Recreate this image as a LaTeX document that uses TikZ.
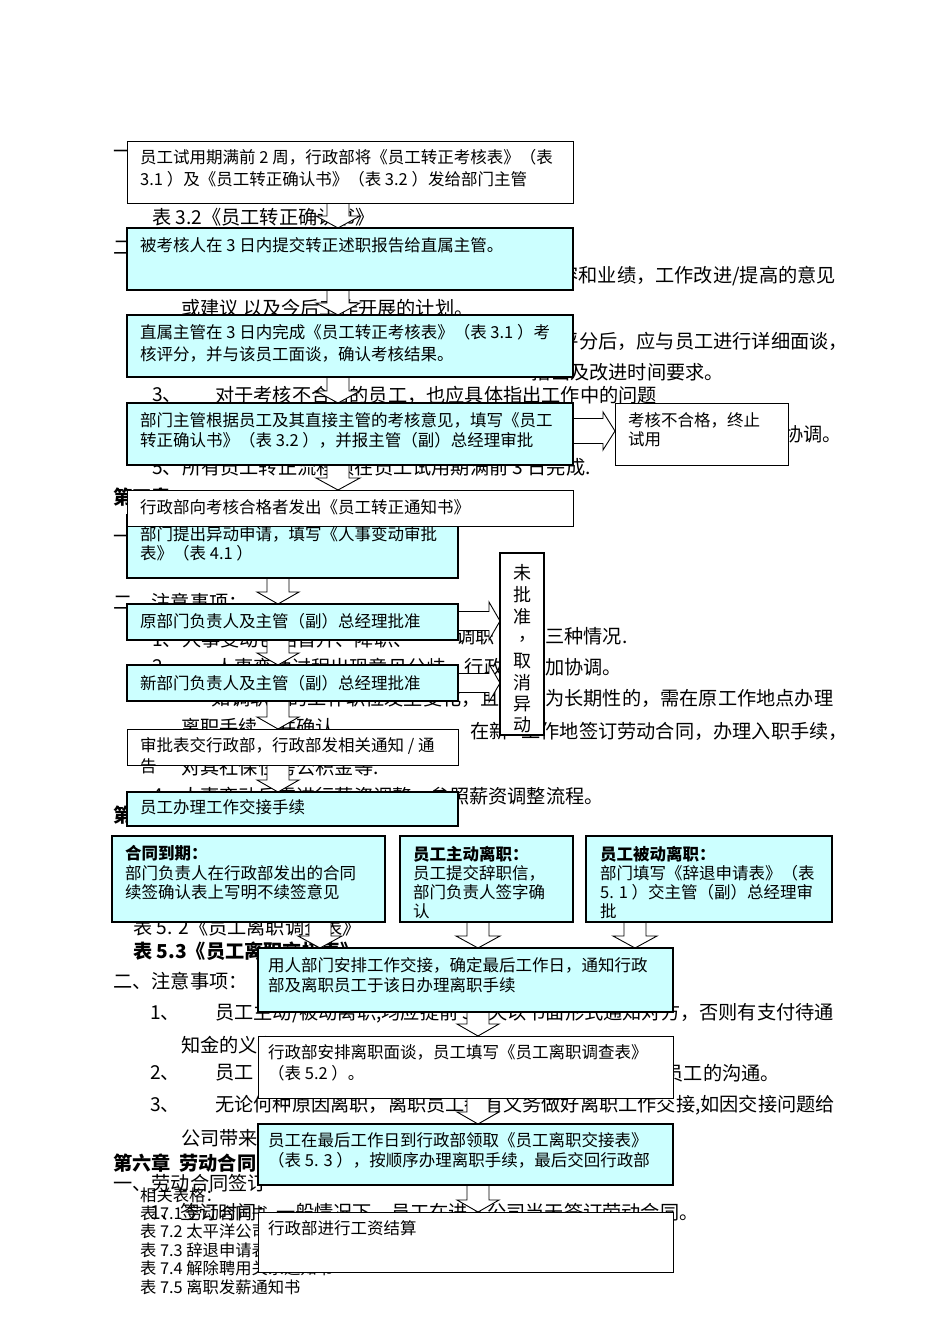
\documentclass[tikz,border=0pt]{standalone}
\usepackage{fontspec}
\setmainfont{Noto Sans CJK SC}
\usetikzlibrary{calc}
\definecolor{cy}{RGB}{204,255,255}
\pgfdeclarelayer{bgl}
\pgfdeclarelayer{arl}
\pgfsetlayers{bgl,arl,main}
\tikzset{
 wbox/.style={draw=black, line width=1pt, fill=white, anchor=north west, inner sep=0pt, outer sep=0pt},
 cbox/.style={draw=black, line width=2.2pt, fill=cy, anchor=north west, inner sep=0pt, outer sep=0pt},
 btxt/.style={anchor=north west, inner sep=0pt, align=left, font=\fontsize{16.5}{#1}\selectfont},
 btxt/.default=21,
 bgt/.style={anchor=west, inner sep=0pt, font=\fontsize{19.2}{22}\selectfont},
 bge/.style={anchor=east, inner sep=0pt, font=\fontsize{19.2}{22}\selectfont},
 bgs/.style={anchor=west, inner sep=0pt, font=\fontsize{16.3}{18}\selectfont},
 kch/.style={inner sep=0pt, font=\fontsize{18}{20}\selectfont},
 blk/.style={draw=black, line width=0.9pt, fill=white, line join=miter},
}
\newcommand{\blkdown}[5]{%
  \path (#1,0 |- #2.south) coordinate (tp) (#1,0 |- #3.north) coordinate (bt);
  \filldraw[blk] ($(tp)+(-#4,0)$) -- ($(bt)+(-#4,-12)$) -- ($(bt)+(-#5,-12)$) -- (bt) -- ($(bt)+(#5,-12)$) -- ($(bt)+(#4,-12)$) -- ($(tp)+(#4,0)$);
}
\newcommand{\blkright}[6]{%
  \path (#2.east |- 0,#1) coordinate (lt) (#3.west |- 0,#1) coordinate (rt);
  \filldraw[blk] ($(lt)+(0,-#4)$) -- ($(rt)+(-#6,-#4)$) -- ($(rt)+(-#6,-#5)$) -- (rt) -- ($(rt)+(-#6,#5)$) -- ($(rt)+(-#6,#4)$) -- ($(lt)+(0,#4)$);
}
\begin{document}
\begin{tikzpicture}[x=1pt,y=-1pt]
\useasboundingbox (0,0) rectangle (950,1344);
\begin{pgfonlayer}{bgl}
\fill[white] (0,0) rectangle (950,1344);
% background document text
\node[bgt] (t1) at (113,155) {一、};
\node[bgt] (t2) at (152,217) {表 3.2《员工转正确认书》};
\node[bgt] (t3) at (113,248) {二、};
\node[bge] (t4) at (836,276) {容和业绩，工作改进/提高的意见};
\node[bgt] (t5) at (181,308) {或建议 以及今后工作开展的计划。};
\node[bge] (t6) at (848,341) {核评分后，应与员工进行详细面谈，};
\node[bge] (t7) at (724,372) {指出及改进时间要求。};
\node[bgt] (t8a) at (152,395) {3、};
\node[bgt] (t8b) at (215,395) {对于考核不合格的员工，也应具体指出工作中的问题};
\node[bge] (t9) at (842,434) {协调。};
\node[bgt] (t10) at (152,467) {5、所有员工转正流程须在员工试用期满前 3 日完成.};
\node[bgt,font=\fontsize{19.2}{22}\selectfont\bfseries] (t11) at (113,497) {第四章};
\node[bgt] (t12) at (113,540) {一、};
\node[bgt] (t13) at (113,602) {二、注意事项：};
\node[bgt] (t14a) at (152,639) {1、人事变动包括晋升、降职、};
\node[bgt] (t14b) at (456,636) {调职};
\node[bgt] (t14c) at (545,636) {三种情况.};
\node[bgt] (t15a) at (152,667) {2、};
\node[bgt] (t15b) at (215,667) {人事变动过程出现意见分歧，行政};
\node[bgt] (t15c) at (545,667) {加协调。};
\node[bge] (t16a) at (500,698) {如调职后的工作职位发生变化，且};
\node[bgt] (t16b) at (545,698) {为长期性的，需在原工作地点办理};
\node[bgt] (t17a) at (181,727) {离职手续，并确认};
\node[bgt] (t17b) at (470,731) {在新};
\node[bge] (t17c) at (848,731) {工作地签订劳动合同，办理入职手续，};
\node[bgt] (t18) at (181,767) {对其社保住房公积金等.};
\node[bgt] (t19a) at (152,796) {4、};
\node[bgt] (t19b) at (181,796) {人事变动后需进行薪资调整，参照薪资调整流程。};
\node[bgt,font=\fontsize{19.2}{22}\selectfont\bfseries] (t20) at (113,815) {第五章};
\node[bgt] (t21) at (133,927) {表 5. 2《员工离职调查表》};
\node[bgt,font=\fontsize{19.2}{22}\selectfont\bfseries] (t22) at (133,951) {表 5.3《员工离职交接表》};
\node[bgt] (t23) at (113,981) {二、注意事项：};
\node[bgt] (t24a) at (150,1013) {1、};
\node[bgt] (t24b) at (215,1013) {员工主动/被动离职,均应提前 30 天以书面形式通知对方，否则有支付待通};
\node[bgt] (t25) at (181,1045) {知金的义务。};
\node[bgt] (t26a) at (150,1073) {2、};
\node[bgt] (t26b) at (215,1073) {员工};
\node[bge] (t26c) at (780,1073) {员工的沟通。};
\node[bgt] (t27a) at (150,1105) {3、};
\node[bgt] (t27b) at (215,1105) {无论何种原因离职，离职员工都有义务做好离职工作交接,如因交接问题给};
\node[bgt] (t28) at (181,1138) {公司带来};
\node[bgt,font=\fontsize{19.2}{22}\selectfont\bfseries] (t29) at (113,1163) {第六章\ \ 劳动合同};
\node[bgt] (t30) at (113,1183) {一、劳动合同签订};
\node[bgs] (t31) at (140,1195) {相关表格：};
\node[bgs] (t32) at (140,1213) {表 7.1 劳动合同书};
\node[bgt] (t33) at (150,1212) {1、签订时间：一般情况下，员工在进入公司当天签订劳动合同。};
\node[bgs] (t34) at (140,1231) {表 7.2 太平洋公司};
\node[bgs] (t35) at (140,1250) {表 7.3 辞退申请表};
\node[bgs] (t36) at (140,1268) {表 7.4 解除聘用关系通知书};
\node[bgs] (t37) at (140,1287) {表 7.5 离职发薪通知书};
\end{pgfonlayer}
% boxes
\node[wbox, minimum width=446pt, minimum height=62pt] (A) at (127,141) {};
\node[cbox, minimum width=446pt, minimum height=62pt] (B) at (127,228) {};
\node[cbox, minimum width=446pt, minimum height=62pt] (C) at (127,315) {};
\node[cbox, minimum width=446pt, minimum height=62pt] (D) at (127,403) {};
\node[wbox, minimum width=173pt, minimum height=62pt] (E) at (615,403) {};
\node[cbox, minimum width=331pt, minimum height=63pt] (G) at (127,515) {};
\node[btxt=19] (Gt) at (140,526) {部门提出异动申请，填写《人事变动审批\\表》（表 4.1 ）};
\node[wbox, minimum width=446pt, minimum height=36pt] (F) at (127,490) {};
\node[wbox, line width=1.2pt, minimum width=44pt, minimum height=182pt] (K) at (500,553) {};
\node[cbox, minimum width=331pt, minimum height=36pt] (H) at (127,604) {};
\node[cbox, minimum width=331pt, minimum height=36pt] (I) at (127,665) {};
\node[wbox, minimum width=331pt, minimum height=36pt] (J) at (127,729) {};
\node[cbox, minimum width=331pt, minimum height=34pt] (L) at (127,792) {};
\node[cbox, minimum width=273pt, minimum height=86pt] (M1) at (112,836) {};
\node[cbox, minimum width=173pt, minimum height=86pt] (M2) at (400,836) {};
\node[cbox, minimum width=246pt, minimum height=86pt] (M3) at (586,836) {};
\node[cbox, minimum width=415pt, minimum height=64pt] (N) at (258,948) {};
\node[wbox, minimum width=415pt, minimum height=62pt] (O) at (258,1036) {};
\node[cbox, minimum width=415pt, minimum height=61pt] (P) at (258,1124) {};
\node[wbox, minimum width=415pt, minimum height=60pt] (Q) at (258,1212) {};
% box texts
\node[btxt=22] (At) at (140,149.5) {员工试用期满前 2 周，行政部将《员工转正考核表》（表\\3.1 ）及《员工转正确认书》（表 3.2 ）发给部门主管};
\node[btxt] (Bt) at (140,237.5) {被考核人在 3 日内提交转正述职报告给直属主管。};
\node[btxt=22] (Ct) at (140,324.5) {直属主管在 3 日内完成《员工转正考核表》（表 3.1 ）考\\核评分，并与该员工面谈，确认考核结果。};
\node[btxt=20] (Dt) at (140,412.5) {部门主管根据员工及其直接主管的考核意见，填写《员工\\转正确认书》（表 3.2 ），并报主管（副）总经理审批};
\node[btxt=19] (Et) at (628,412.5) {考核不合格，终止\\试用};
\node[btxt] (Ft) at (140,499.5) {行政部向考核合格者发出《员工转正通知书》};
\node[kch] (K1) at (522,573) {未};
\node[kch] (K2) at (522,595) {批};
\node[kch] (K3) at (522,617) {准};
\node[kch] (K4) at (527,639) {，};
\node[kch] (K5) at (522,661) {取};
\node[kch] (K6) at (522,683) {消};
\node[kch] (K7) at (522,704) {异};
\node[kch] (K8) at (522,725) {动};
\node[btxt] (Ht) at (140,613.5) {原部门负责人及主管（副）总经理批准};
\node[btxt] (It) at (140,675.5) {新部门负责人及主管（副）总经理批准};
\node[btxt] (Jt) at (140,737.5) {审批表交行政部，行政部发相关通知 / 通\\告};
\node[btxt] (Lt) at (140,799.5) {员工办理工作交接手续};
\node[btxt=19.3] (M1t) at (125,845.5) {\textbf{合同到期：}\\部门负责人在行政部发出的合同\\续签确认表上写明不续签意见};
\node[btxt=19.3] (M2t) at (413,845.5) {\textbf{员工主动离职：}\\员工提交辞职信，\\部门负责人签字确\\认};
\node[btxt=19.3] (M3t) at (600,845.5) {\textbf{员工被动离职：}\\部门填写《辞退申请表》（表\\5. 1 ）交主管（副）总经理审\\批};
\node[btxt=20] (Nt) at (268,957.5) {用人部门安排工作交接，确定最后工作日，通知行政\\部及离职员工于该日办理离职手续};
\node[btxt] (Ot) at (268,1044.5) {行政部安排离职面谈，员工填写《员工离职调查表》\\（表 5.2 ）。};
\node[btxt=20] (Pt) at (268,1132.5) {员工在最后工作日到行政部领取《员工离职交接表》\\（表 5. 3 ），按顺序办理离职手续，最后交回行政部};
\node[btxt] (Qt) at (268,1220.5) {行政部进行工资结算};
% block arrows
\begin{pgfonlayer}{arl}
\blkdown{338}{A}{B}{11}{22}
\blkdown{338}{B}{C}{11}{22}
\blkdown{338}{C}{D}{11}{22}
\blkdown{338}{D}{F}{11}{22}
\blkdown{278}{G}{H}{11}{21}
\blkdown{278}{H}{I}{11}{21}
\blkdown{278}{I}{J}{11}{21}
\blkdown{278}{J}{L}{11}{21}
\blkdown{320}{M1}{N}{11}{22}
\blkdown{478}{M2}{N}{11}{22}
\blkdown{635}{M3}{N}{11}{22}
\blkdown{478}{N}{O}{11}{21}
\blkdown{478}{O}{P}{11}{21}
\blkdown{478}{P}{Q}{11}{21}
\blkright{431}{D}{E}{12.5}{19}{12}
\blkright{621}{H}{K}{9.5}{19}{11}
\blkright{683}{I}{K}{9.5}{19}{11}
\end{pgfonlayer}
\end{tikzpicture}
\end{document}
